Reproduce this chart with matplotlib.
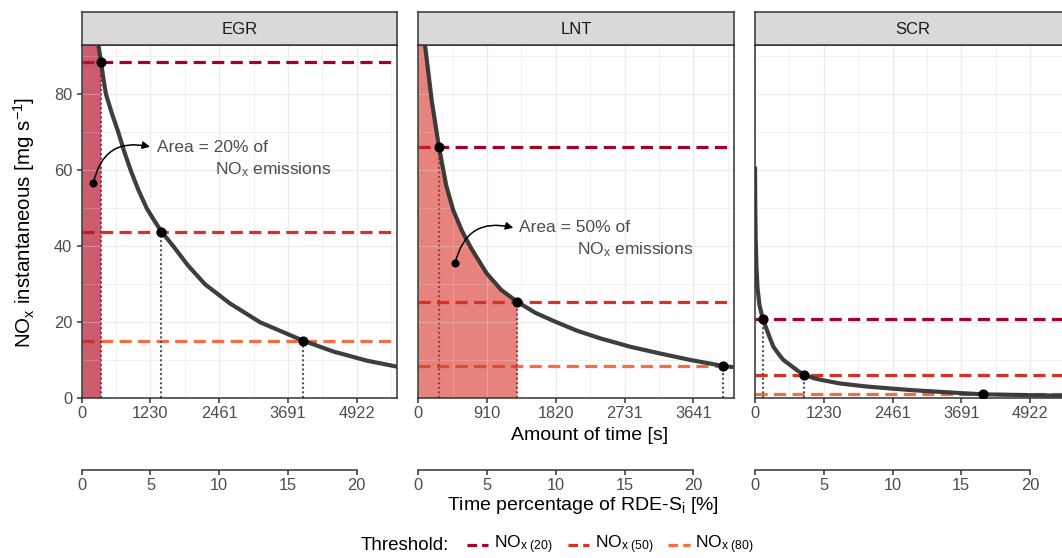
import matplotlib
matplotlib.use("Agg")
import matplotlib.pyplot as plt
from matplotlib.lines import Line2D

plt.rcParams['font.family'] = ['Liberation Sans', 'DejaVu Sans']
plt.rcParams['mathtext.fontset'] = 'custom'
plt.rcParams['mathtext.rm'] = 'Liberation Sans'
plt.rcParams['mathtext.it'] = 'Liberation Sans:italic'
plt.rcParams['mathtext.bf'] = 'Liberation Sans:bold'

# ---------------- data ----------------
panels = ["EGR", "LNT", "SCR"]
total_time = [24610, 18205, 24610]          # seconds of RDE trip (100 %)
pct_ticks = [0, 5, 10, 15, 20]
time_tick_labels = [["0", "1230", "2461", "3691", "4922"],
                    ["0", "910", "1820", "2731", "3641"],
                    ["0", "1230", "2461", "3691", "4922"]]

egr_t = [0, 200, 300, 346, 390, 435, 540, 656, 760, 877, 1010, 1164, 1290, 1426, 1641, 1900,
         2208, 2650, 3194, 3958, 4507, 5105, 5653]
egr_nox = [200, 110, 93, 88.6, 84, 80, 75, 70, 65, 60, 55, 50, 47, 43.9, 40, 35,
           30, 25, 20, 15.2, 12.3, 9.9, 8.3]

lnt_t = [0, 89, 177, 274, 370, 463, 580, 700, 905, 1100, 1310, 1550, 1809, 2100, 2405, 2800,
         3199, 3600, 4037, 4169]
lnt_nox = [150, 93, 78.5, 66.1, 56, 49.5, 44, 39.5, 32.9, 28.5, 25.4, 22.5, 20.2, 17.8, 15.8, 13.6,
           11.8, 10.1, 8.5, 8.2]

scr_t = [0, 5, 12, 25, 45, 80, 138, 200, 250, 328, 420, 507, 626, 750, 877, 1050, 1200, 1521,
         2000, 2416, 2850, 3311, 3700, 4076, 5000, 5650]
scr_nox = [61, 50, 42, 35, 29, 24.5, 21.0, 18.5, 16.5, 13.6, 11.7, 10.1, 8.8, 7.4, 6.2, 5.3, 4.8, 3.9,
           3.1, 2.6, 2.1, 1.7, 1.35, 1.05, 0.8, 0.65]

threshold_names = ["NOx(20)", "NOx(50)", "NOx(80)"]
egr_thr = [88.6, 43.9, 15.2]
egr_thr_t = [346, 1426, 3958]
lnt_thr = [66.1, 25.4, 8.5]
lnt_thr_t = [274, 1310, 4037]
scr_thr = [21.0, 6.2, 1.05]
scr_thr_t = [138, 877, 4076]

area_pct = [20, 50, None]   # shaded share of NOx emissions per panel

# ---------------- style ----------------
thr_colors = ['#A50026', '#D73027', '#F46D43']
fill_colors = {20: ('#B5172F', 0.70), 50: ('#D73027', 0.60)}
curve_color = '#333333'
grid_color = '#EBEBEB'
border_color = '#333333'
tick_text = '#4D4D4D'

W, H = 1062, 558
fig = plt.figure(figsize=(W / 100, H / 100), dpi=100)

panel_left_px = [81.7, 418.3, 755.0]
panel_w_px = 315.6
panel_top_px, panel_bot_px = 45.0, 398.3
strip_top_px = 12.0
xmax_pct = 22.95
ymax = 93.0

curves_t = [egr_t, lnt_t, scr_t]
curves_v = [egr_nox, lnt_nox, scr_nox]
thr_vals = [egr_thr, lnt_thr, scr_thr]
thr_times = [egr_thr_t, lnt_thr_t, scr_thr_t]

def fx(px):
    return px / W

def fy(py):
    return (H - py) / H

dash = (0, (3.8, 2.0))

for i, name in enumerate(panels):
    L = panel_left_px[i]
    ax = fig.add_axes([fx(L), fy(panel_bot_px), panel_w_px / W, (panel_bot_px - panel_top_px) / H])
    tot = total_time[i]
    xmax = tot * xmax_pct / 100
    ax.set_xlim(0, xmax)
    ax.set_ylim(0, ymax)

    # grid
    xt = [tot * p / 100 for p in pct_ticks]
    xminor = [tot * (p + 2.5) / 100 for p in pct_ticks]
    grid_specs = ([('v', x, 0.9) for x in xt] + [('v', x, 0.5) for x in xminor] +
                  [('h', y, 0.9) for y in [0, 20, 40, 60, 80]] +
                  [('h', y, 0.5) for y in [10, 30, 50, 70, 90]])
    for kind, pos, lw in grid_specs:
        if kind == 'v':
            ax.axvline(pos, color=grid_color, lw=lw, zorder=0.2)
        else:
            ax.axhline(pos, color=grid_color, lw=lw, zorder=0.2)

    # threshold lines
    for k in range(3):
        ax.axhline(thr_vals[i][k], color=thr_colors[k], lw=2.3, linestyle=dash, zorder=1)
        ax.plot([thr_times[i][k], thr_times[i][k]], [0, thr_vals[i][k]], color='#555555',
                lw=1.5, linestyle=(0, (1, 1.2)), zorder=1.1)

    # shaded area
    if area_pct[i] is not None:
        k = 0 if area_pct[i] == 20 else 1
        tt = [t for t in curves_t[i] if t <= thr_times[i][k]]
        vv = curves_v[i][:len(tt)]
        fc, fa = fill_colors[area_pct[i]]
        poly = ax.fill_between(tt, 0, vv, color=fc, alpha=fa, lw=0, zorder=1.5)
        clip = poly.get_paths()[0]
        for kind, pos, lw in grid_specs:
            if kind == 'v':
                gl = ax.axvline(pos, color='white', lw=lw, alpha=0.3, zorder=1.6)
            else:
                gl = ax.axhline(pos, color='white', lw=lw, alpha=0.3, zorder=1.6)
            gl.set_clip_path(clip, ax.transData)

    ax.plot(curves_t[i], curves_v[i], color=curve_color, lw=3.0, zorder=3,
            solid_capstyle='butt', solid_joinstyle='round', alpha=0.95)
    ax.plot(thr_times[i], thr_vals[i], 'o', color='black', ms=6.3, zorder=4)

    ax.set_xticks(xt)
    ax.set_xticklabels(time_tick_labels[i])
    ax.tick_params(axis='x', length=3.3, width=1.1, color=border_color,
                   labelsize=11.8, labelcolor=tick_text, pad=2.5)
    if i == 0:
        ax.set_yticks([0, 20, 40, 60, 80])
        ax.tick_params(axis='y', length=3.3, width=1.1, color=border_color,
                       labelsize=11.8, labelcolor=tick_text, pad=3.5)
    else:
        ax.set_yticks([])
    for s in ax.spines.values():
        s.set_color(border_color)
        s.set_linewidth(1.1)
    ax.set_facecolor('white')

    # strip
    sax = fig.add_axes([fx(L), fy(panel_top_px), panel_w_px / W, (panel_top_px - strip_top_px) / H])
    sax.set_facecolor('#D9D9D9')
    sax.set_xticks([]); sax.set_yticks([])
    for s in sax.spines.values():
        s.set_color(border_color)
        s.set_linewidth(1.1)
    sax.text(0.5, 0.47, name, ha='center', va='center', fontsize=12, color='#1A1A1A',
             transform=sax.transAxes)

    # secondary percentage axis
    pax = fig.add_axes([fx(L), fy(470), panel_w_px / W, 0.0001])
    pax.set_xlim(0, xmax_pct)
    pax.set_facecolor('none')
    for sname in ['top', 'left', 'right']:
        pax.spines[sname].set_visible(False)
    pax.spines['bottom'].set_bounds(0, 20)
    pax.spines['bottom'].set_color(border_color)
    pax.spines['bottom'].set_linewidth(1.1)
    pax.set_yticks([])
    pax.set_xticks(pct_ticks)
    pax.set_xticklabels([str(p) for p in pct_ticks])
    pax.tick_params(axis='x', length=3.3, width=1.1, color=border_color,
                    labelsize=11.8, labelcolor=tick_text, pad=2.5)

    # annotation
    if i == 0:
        ax.annotate('', xy=(1223, 66.2), xytext=(208, 56.6),
                    arrowprops=dict(arrowstyle='-|>', color='black', lw=1.1,
                                    connectionstyle='arc3,rad=-0.5', mutation_scale=11,
                                    shrinkA=0, shrinkB=0), zorder=5)
        ax.plot([208], [56.6], 'o', color='black', ms=4.8, zorder=5)
        ax.text(1343, 65.9, 'Area = 20% of', fontsize=12.5, color=tick_text, va='center', ha='left', zorder=5)
        ax.text(2388, 60.3, r'NO$_{\mathrm{x}}$ emissions', fontsize=12.5, color=tick_text, va='center', ha='left', zorder=5)
    if i == 1:
        ax.annotate('', xy=(1258, 44.9), xytext=(486, 35.5),
                    arrowprops=dict(arrowstyle='-|>', color='black', lw=1.1,
                                    connectionstyle='arc3,rad=-0.5', mutation_scale=11,
                                    shrinkA=0, shrinkB=0), zorder=5)
        ax.plot([486], [35.5], 'o', color='black', ms=4.8, zorder=5)
        ax.text(1333, 44.9, 'Area = 50% of', fontsize=12.5, color=tick_text, va='center', ha='left', zorder=5)
        ax.text(2097, 39.2, r'NO$_{\mathrm{x}}$ emissions', fontsize=12.5, color=tick_text, va='center', ha='left', zorder=5)

# axis titles
fig.text(fx(24), fy(222), r'NO$_{\mathrm{x}}$ instantaneous [mg s$^{-1}$]', rotation=90,
         ha='center', va='center', fontsize=14.8, color='black')
fig.text(fx(590), fy(435), 'Amount of time [s]', ha='center', va='center', fontsize=14, color='black')
fig.text(fx(583), fy(505), r'Time percentage of RDE-S$_{\mathrm{i}}$ [%]', ha='center', va='center',
         fontsize=14, color='black')

# legend
leg_y = fy(545)
fig.text(fx(360.7), leg_y, 'Threshold:', ha='left', va='center', fontsize=13.5, color='black')
key_x = [466.7, 567.7, 668.0]
leg_labels = [r'NO$_{\mathrm{x\ (20)}}$', r'NO$_{\mathrm{x\ (50)}}$', r'NO$_{\mathrm{x\ (80)}}$']
for k in range(3):
    fig.add_artist(Line2D([fx(key_x[k]), fx(key_x[k] + 21.5)], [leg_y, leg_y],
                          color=thr_colors[k], lw=2.3, linestyle=(0, (3.0, 1.6)),
                          transform=fig.transFigure))
    fig.text(fx(key_x[k] + 27), leg_y, leg_labels[k], ha='left', va='center', fontsize=12.5, color='black')

fig.savefig('out.png', dpi=100, facecolor='white')
